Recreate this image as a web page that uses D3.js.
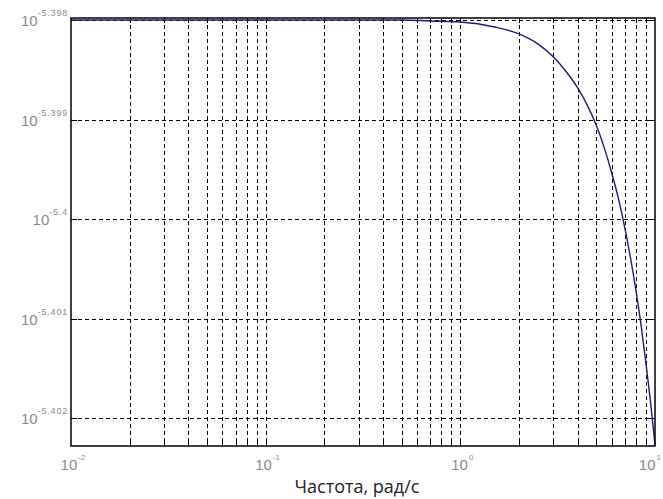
<!DOCTYPE html>
<html>
  <head>
    <meta charset="utf-8">
    <title>Bode magnitude</title>
    <style>
      body { margin: 0; background: #fff; }
      .tick-label { font-family: "Liberation Sans", Arial, sans-serif; fill: #8a8a8a; }
      .grid line { stroke: #000; stroke-width: 1; stroke-dasharray: 4,3; }
      .xlabel { font-family: "Open Sans", "DejaVu Sans", sans-serif; font-size: 18px; fill: #222; }
    </style>
  </head>
  <body>
    <div id="chart"></div>
    <script src="https://cdn.jsdelivr.net/npm/d3@7/dist/d3.min.js"></script>
    <script>
      // values
      var freq = [0.01, 0.03, 0.1, 0.3, 0.5, 0.7, 1, 1.5, 2, 2.5, 3, 3.5, 4, 4.5, 5,
                  5.5, 6, 6.5, 7, 7.5, 8, 8.5, 9, 9.5, 10];
      var magExp = [-5.39800, -5.39800, -5.39800, -5.39800, -5.39800, -5.39801, -5.39802,
                    -5.39807, -5.39814, -5.39824, -5.39837, -5.39852, -5.39868, -5.39886,
                    -5.39906, -5.39929, -5.39954, -5.39980, -5.40009, -5.40040, -5.40073,
                    -5.40108, -5.40146, -5.40185, -5.40227];
      var yTickExp = [-5.398, -5.399, -5.4, -5.401, -5.402];
      var yTickText = ['-5.398', '-5.399', '-5.4', '-5.401', '-5.402'];
      var xDecades = [-2, -1, 0, 1];
      var xLabel = 'Частота, рад/с';

      (function(d3) {
        'use strict';

        var width = 663;
        var height = 499;
        var left = 71, right = 655, top = 18, bottom = 446;

        var svg = d3.select('#chart')
          .append('svg')
          .attr('width', width)
          .attr('height', height);

        var x = d3.scaleLog()
          .domain([0.01, 10])
          .range([left, right]);

        var y = d3.scaleLog()
          .domain([Math.pow(10, -5.40228), Math.pow(10, -5.39798)])
          .range([bottom, top]);

        // vertical grid at 1..9 per decade
        var xGrid = [];
        xDecades.forEach(function(k) {
          for (var m = 1; m < 10; m++) {
            var v = m * Math.pow(10, k);
            if (v > 0.01 && v < 10) xGrid.push(v);
          }
        });
        var yVals = yTickExp.map(function(e) { return Math.pow(10, e); });

        var grid = svg.append('g').attr('class', 'grid');
        grid.selectAll('.vx')
          .data(xGrid)
          .enter().append('line')
          .attr('x1', function(d) { return Math.round(x(d)) + 0.5; })
          .attr('x2', function(d) { return Math.round(x(d)) + 0.5; })
          .attr('y1', top)
          .attr('y2', bottom);
        grid.selectAll('.hy')
          .data(yVals)
          .enter().append('line')
          .attr('x1', left)
          .attr('x2', right)
          .attr('y1', function(d) { return Math.round(y(d)) + 0.5; })
          .attr('y2', function(d) { return Math.round(y(d)) + 0.5; });

        // tick marks inside the box
        var ticks = svg.append('g').attr('stroke', '#000').attr('stroke-width', 1);
        xGrid.forEach(function(d) {
          var px = Math.round(x(d)) + 0.5;
          ticks.append('line').attr('x1', px).attr('x2', px).attr('y1', top).attr('y2', top + 5);
          ticks.append('line').attr('x1', px).attr('x2', px).attr('y1', bottom).attr('y2', bottom - 5);
        });
        yVals.forEach(function(d) {
          var py = Math.round(y(d)) + 0.5;
          ticks.append('line').attr('x1', left).attr('x2', left + 6).attr('y1', py).attr('y2', py);
          ticks.append('line').attr('x1', right).attr('x2', right - 6).attr('y1', py).attr('y2', py);
        });

        // curve
        var line = d3.line()
          .x(function(d, i) { return x(freq[i]); })
          .y(function(d) { return y(Math.pow(10, d)); })
          .curve(d3.curveMonotoneX);

        svg.append('path')
          .datum(magExp)
          .attr('d', line)
          .attr('fill', 'none')
          .attr('stroke', '#1c1c7a')
          .attr('stroke-width', 1.4);

        // frame
        svg.append('rect')
          .attr('x', left)
          .attr('y', top)
          .attr('width', right - left)
          .attr('height', bottom - top)
          .attr('fill', 'none')
          .attr('stroke', '#000')
          .attr('stroke-width', 1.5);

        // y tick labels
        var yl = svg.selectAll('.ylab')
          .data(yVals)
          .enter().append('text')
          .attr('class', 'tick-label')
          .attr('text-anchor', 'end')
          .attr('x', left - 3)
          .attr('y', function(d) { return y(d) + 6; });
        yl.append('tspan')
          .style('font-size', '15px')
          .text('10');
        yl.append('tspan')
          .attr('dy', -10)
          .attr('dx', 0)
          .style('font-size', '9px')
          .style('letter-spacing', '0.8px')
          .text(function(d, i) { return yTickText[i]; });

        // x tick labels
        var xl = svg.selectAll('.xlab')
          .data(xDecades)
          .enter().append('text')
          .attr('class', 'tick-label')
          .attr('text-anchor', function(d, i) { return i === xDecades.length - 1 ? 'end' : 'middle'; })
          .attr('x', function(d, i) {
            return i === xDecades.length - 1 ? width - 2 : x(Math.pow(10, d)) + 2;
          })
          .attr('y', 470);
        xl.append('tspan')
          .style('font-size', '15px')
          .text('10');
        xl.append('tspan')
          .attr('dy', -10)
          .attr('dx', 1)
          .style('font-size', '8px')
          .text(function(d) { return d; });

        svg.append('text')
          .attr('class', 'xlabel')
          .attr('text-anchor', 'middle')
          .attr('x', 357)
          .attr('y', 493)
          .text(xLabel);

      })(window.d3);
    </script>
  </body>
</html>
